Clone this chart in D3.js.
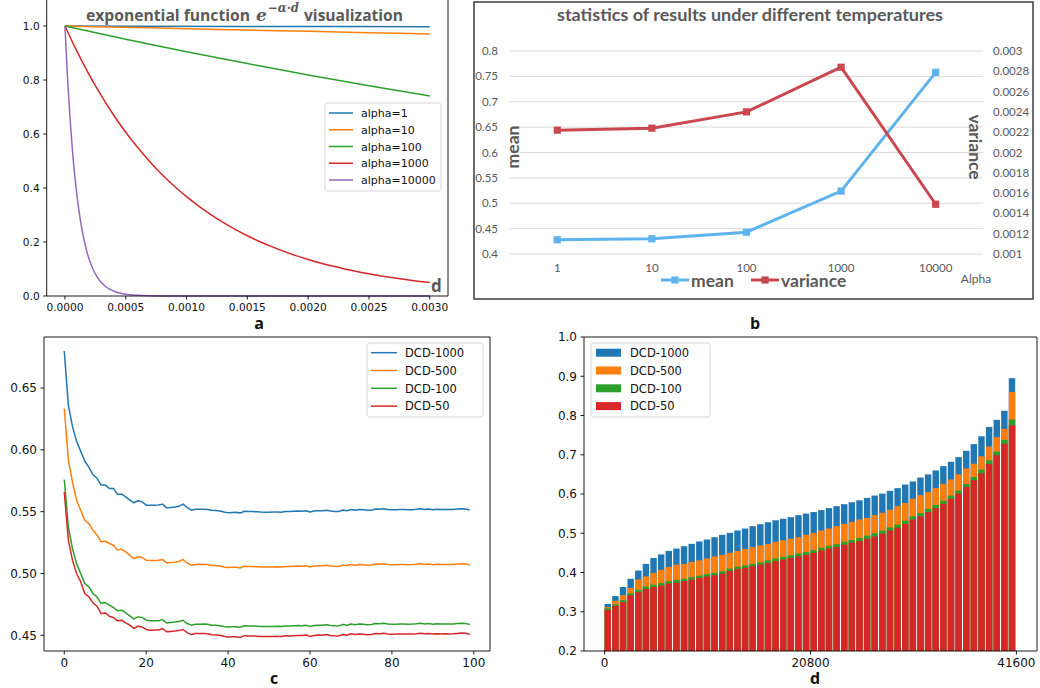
<!DOCTYPE html>
<html><head><meta charset="utf-8">
<script src="https://cdn.jsdelivr.net/npm/d3@7"></script>
<style>body{margin:0;background:#fff}svg{display:block}</style>
</head><body>
<svg id="fig" width="1040" height="688"></svg>
<script>
// ---------- Panel a data ----------
const alphaLabels = ["alpha=1","alpha=10","alpha=100","alpha=1000","alpha=10000"];
const aX1 = [0, 0.0015, 0.003];
const aY1 = [1.0, 0.9985, 0.997];
const aX10 = [0,0.0005,0.001,0.0015,0.002,0.0025,0.003];
const aY10 = [1,0.9950,0.9900,0.9851,0.9802,0.9753,0.9704];
const aY100 = [1,0.9512,0.9048,0.8607,0.8187,0.7788,0.7408];
const aX1000 = [0,0.0001,0.0002,0.0003,0.0004,0.0005,0.0006,0.0007,0.0008,0.0009,0.001,0.0011,0.0012,0.0013,0.0014,0.0015,0.0016,0.0017,0.0018,0.0019,0.002,0.0021,0.0022,0.0023,0.0024,0.0025,0.0026,0.0027,0.0028,0.0029,0.003];
const aY1000 = [1,0.9048,0.8187,0.7408,0.6703,0.6065,0.5488,0.4966,0.4493,0.4066,0.3679,0.3329,0.3012,0.2725,0.2466,0.2231,0.2019,0.1827,0.1653,0.1496,0.1353,0.1225,0.1108,0.1003,0.0907,0.0821,0.0743,0.0672,0.0608,0.0550,0.0498];
const aX10000 = [0,0.00002,0.00004,0.00006,0.00008,0.0001,0.00012,0.00014,0.00016,0.00018,0.0002,0.00022,0.00024,0.00026,0.00028,0.0003,0.00032,0.00034,0.00036,0.00038,0.0004,0.00042,0.00044,0.00046,0.00048,0.0005,0.00052,0.00054,0.00056,0.00058,0.0006,0.0008,0.001,0.002,0.003];
const aY10000 = [1,0.8187,0.6703,0.5488,0.4493,0.3679,0.3012,0.2466,0.2019,0.1653,0.1353,0.1108,0.0907,0.0743,0.0608,0.0498,0.0408,0.0334,0.0273,0.0224,0.0183,0.0150,0.0123,0.0101,0.0082,0.0067,0.0055,0.0045,0.0037,0.0030,0.0025,0.0003,0.00005,0,0];
const aXTicks = [0,0.0005,0.001,0.0015,0.002,0.0025,0.003];
const aYTicks = [0,0.2,0.4,0.6,0.8,1.0];

// ---------- Panel b data ----------
const bCategories = ["1","10","100","1000","10000"];
const bMean = [0.428,0.430,0.443,0.524,0.758];
const bVariance = [0.00222,0.00224,0.00240,0.00284,0.00149];
const bLeftTicks = [0.4,0.45,0.5,0.55,0.6,0.65,0.7,0.75,0.8];
const bRightTicks = [0.001,0.0012,0.0014,0.0016,0.0018,0.002,0.0022,0.0024,0.0026,0.0028,0.003];

// ---------- Panel c data ----------
const cSeriesNames = ["DCD-1000","DCD-500","DCD-100","DCD-50"];
const cDCD1000 = [0.680,0.636,0.619,0.607,0.599,0.591,0.586,0.580,0.577,0.5715,
 0.5715,0.5688,0.5688,0.564,0.5642,0.562,0.5593,0.5572,0.5588,0.558,
 0.5553,0.5552,0.5553,0.5554,0.5561,0.5531,0.5533,0.5537,0.5543,0.5561,
 0.5534,0.5512,0.552,0.552,0.552,0.5518,0.5511,0.5509,0.5506,0.5498,
 0.5492,0.5494,0.5495,0.5489,0.5503,0.5501,0.5501,0.5499,0.5497,0.5496,
 0.5496,0.5497,0.5498,0.5496,0.5502,0.5501,0.5503,0.5505,0.5504,0.5508,
 0.5497,0.5505,0.5508,0.5507,0.5512,0.5505,0.5502,0.5501,0.5513,0.5507,
 0.5518,0.5512,0.5517,0.5515,0.5511,0.5512,0.5521,0.5519,0.5523,0.5517,
 0.5515,0.5516,0.5517,0.5517,0.5516,0.5516,0.5519,0.5523,0.5518,0.5521,
 0.5516,0.5519,0.5517,0.5518,0.5517,0.5518,0.5521,0.5524,0.5522,0.5513];
const cDCD500 = [0.6335,0.5917,0.5742,0.5593,0.5512,0.5431,0.5404,0.535,0.531,0.5256,
 0.5261,0.5243,0.523,0.5189,0.5197,0.5175,0.5148,0.5119,0.5135,0.513,
 0.5108,0.5105,0.5106,0.5107,0.5113,0.5086,0.5088,0.5091,0.5097,0.5113,
 0.5085,0.5067,0.5073,0.5074,0.5073,0.5072,0.5065,0.5064,0.5061,0.5053,
 0.5048,0.5050,0.5051,0.5045,0.5058,0.5057,0.5056,0.5055,0.5053,0.5052,
 0.5052,0.5053,0.5054,0.5052,0.5057,0.5056,0.5058,0.5060,0.5059,0.5063,
 0.5053,0.5060,0.5063,0.5062,0.5067,0.5061,0.5058,0.5057,0.5068,0.5062,
 0.5073,0.5067,0.5072,0.5070,0.5066,0.5068,0.5076,0.5074,0.5078,0.5072,
 0.5071,0.5071,0.5072,0.5072,0.5071,0.5072,0.5074,0.5078,0.5073,0.5076,
 0.5071,0.5074,0.5072,0.5073,0.5072,0.5073,0.5076,0.5079,0.5077,0.5069];
const cDCD100 = [0.576,0.5377,0.5202,0.508,0.500,0.4919,0.4892,0.4838,0.4811,0.4757,
 0.4765,0.4744,0.4725,0.4698,0.4703,0.4681,0.4657,0.4633,0.4649,0.4644,
 0.4622,0.4617,0.4618,0.4618,0.4627,0.4600,0.4604,0.4607,0.4612,0.4622,
 0.4595,0.4582,0.4590,0.4590,0.4591,0.4589,0.4582,0.4581,0.4578,0.4571,
 0.4567,0.4569,0.4570,0.4564,0.4577,0.4576,0.4575,0.4574,0.4572,0.4571,
 0.4571,0.4572,0.4573,0.4571,0.4576,0.4575,0.4577,0.4579,0.4578,0.4582,
 0.4572,0.4579,0.4582,0.4581,0.4586,0.4580,0.4577,0.4576,0.4587,0.4581,
 0.4592,0.4586,0.4591,0.4589,0.4585,0.4587,0.4595,0.4593,0.4597,0.4591,
 0.4590,0.4590,0.4591,0.4591,0.4590,0.4591,0.4593,0.4597,0.4592,0.4595,
 0.4590,0.4593,0.4591,0.4592,0.4591,0.4592,0.4595,0.4598,0.4596,0.4588];
const cDCD50 = [0.5658,0.527,0.5108,0.500,0.4933,0.4838,0.4811,0.4763,0.4735,0.4676,
 0.4681,0.4654,0.4644,0.4617,0.4622,0.4600,0.4582,0.4555,0.4574,0.4568,
 0.4547,0.4541,0.4542,0.4542,0.4555,0.4528,0.4531,0.4534,0.4538,0.4547,
 0.4522,0.4506,0.4514,0.4515,0.4514,0.4512,0.4505,0.4503,0.4501,0.4492,
 0.4486,0.4488,0.4489,0.4483,0.4497,0.4495,0.4495,0.4493,0.4491,0.4490,
 0.4490,0.4491,0.4492,0.4490,0.4496,0.4495,0.4497,0.4499,0.4498,0.4502,
 0.4491,0.4499,0.4502,0.4501,0.4506,0.4499,0.4496,0.4495,0.4507,0.4501,
 0.4512,0.4506,0.4511,0.4509,0.4505,0.4506,0.4515,0.4513,0.4517,0.4511,
 0.4509,0.4510,0.4511,0.4511,0.4510,0.4510,0.4513,0.4517,0.4512,0.4515,
 0.4510,0.4513,0.4511,0.4512,0.4511,0.4512,0.4515,0.4518,0.4516,0.4507];
const cXTicks = [0,20,40,60,80,100];
const cYTicks = [0.45,0.50,0.55,0.60,0.65];

// ---------- Panel d data (sorted scores, sampled) ----------
const dDCD1000 = [0.320,0.340,0.363,0.384,0.405,0.422,0.437,0.446,0.455,0.461,0.467,0.473,0.479,0.484,0.490,0.496,0.501,0.507,0.512,0.518,0.523,0.528,0.533,0.537,0.541,0.546,0.550,0.554,0.559,0.564,0.569,0.574,0.579,0.584,0.590,0.596,0.601,0.608,0.615,0.624,0.632,0.642,0.650,0.660,0.671,0.682,0.694,0.710,0.727,0.747,0.771,0.789,0.812,0.895];
const dDCD500 = [0.312,0.328,0.342,0.361,0.382,0.390,0.399,0.407,0.414,0.420,0.422,0.427,0.431,0.436,0.441,0.445,0.450,0.455,0.460,0.465,0.469,0.473,0.478,0.482,0.486,0.490,0.496,0.501,0.507,0.512,0.518,0.524,0.529,0.535,0.539,0.546,0.552,0.560,0.569,0.577,0.588,0.597,0.605,0.615,0.626,0.637,0.650,0.665,0.677,0.696,0.721,0.745,0.766,0.860];
const dDCD100 = [0.309,0.319,0.330,0.347,0.356,0.364,0.369,0.373,0.378,0.381,0.384,0.388,0.392,0.396,0.399,0.403,0.410,0.415,0.418,0.422,0.426,0.431,0.436,0.440,0.444,0.448,0.452,0.457,0.463,0.468,0.472,0.478,0.483,0.488,0.494,0.500,0.507,0.515,0.522,0.532,0.543,0.551,0.562,0.572,0.583,0.596,0.609,0.626,0.643,0.662,0.686,0.708,0.738,0.790];
const dDCD50 = [0.305,0.315,0.325,0.342,0.350,0.358,0.363,0.367,0.372,0.374,0.378,0.382,0.386,0.390,0.393,0.397,0.404,0.409,0.412,0.416,0.420,0.424,0.429,0.433,0.437,0.441,0.445,0.450,0.456,0.461,0.465,0.471,0.476,0.480,0.486,0.492,0.499,0.507,0.514,0.524,0.535,0.543,0.554,0.564,0.575,0.588,0.601,0.618,0.635,0.653,0.677,0.699,0.728,0.775];
const dTotal = 41600;
const dXTicks = [0,20800,41600];
const dYTicks = [0.2,0.3,0.4,0.5,0.6,0.7,0.8,0.9,1.0];

const tab = ["#1f77b4","#ff7f0e","#2ca02c","#d62728","#9467bd"];
const svg = d3.select("#fig");
svg.append("rect").attr("width",1040).attr("height",688).attr("fill","#fff");
const defs = svg.append("defs");
const MPL = "DejaVu Sans";

function spines(g, x0, x1, y0, y1, sides){
  const s = {left:[x0,y0,x0,y1], right:[x1,y0,x1,y1], top:[x0,y0,x1,y0], bottom:[x0,y1,x1,y1]};
  sides.forEach(k=>{ const c=s[k]; g.append("line").attr("x1",c[0]).attr("y1",c[1]).attr("x2",c[2]).attr("y2",c[3]).attr("stroke","#000").attr("stroke-width",0.9); });
}
function xTicks(g, scale, ticks, yb, fmt, fs){
  ticks.forEach(t=>{
    const px = scale(t);
    g.append("line").attr("x1",px).attr("x2",px).attr("y1",yb).attr("y2",yb+3.5).attr("stroke","#000").attr("stroke-width",0.9);
    g.append("text").attr("x",px).attr("y",yb+7+fs*0.76).attr("text-anchor","middle").attr("font-family",MPL).attr("font-size",fs).attr("fill","#111").text(fmt(t));
  });
}
function yTicks(g, scale, ticks, xl, fmt, fs){
  ticks.forEach(t=>{
    const py = scale(t);
    g.append("line").attr("x1",xl-3.5).attr("x2",xl).attr("y1",py).attr("y2",py).attr("stroke","#000").attr("stroke-width",0.9);
    g.append("text").attr("x",xl-7).attr("y",py+fs*0.36).attr("text-anchor","end").attr("font-family",MPL).attr("font-size",fs).attr("fill","#111").text(fmt(t));
  });
}
function clip(id,x,y,w,h){ defs.append("clipPath").attr("id",id).append("rect").attr("x",x).attr("y",y).attr("width",w).attr("height",h); return "url(#"+id+")"; }

// ================= Panel a =================
{
  const L=46.7, R=448, T=-1, B=296;
  const x = d3.scaleLinear().domain([-0.00015,0.00315]).range([L,R]);
  const y = d3.scaleLinear().domain([0,1.1]).range([B,T]);
  const g = svg.append("g");
  const series = [[aX1,aY1],[aX10,aY10],[aX10,aY100],[aX1000,aY1000],[aX10000,aY10000]];
  const gl = g.append("g").attr("clip-path",clip("ca",L,T,R-L,B-T+1));
  const line = d3.line().x(d=>x(d[0])).y(d=>y(d[1])).curve(d3.curveMonotoneX);
  series.forEach((s,i)=>{
    const pts = s[0].map((v,j)=>[v,s[1][j]]);
    gl.append("path").attr("d",line(pts)).attr("fill","none").attr("stroke",tab[i]).attr("stroke-width",1.5);
  });
  spines(g,L,R,T,B,["left","right","bottom"]);
  xTicks(g,x,aXTicks,B,d=>d.toFixed(4),10.6);
  yTicks(g,y,aYTicks,L,d=>d.toFixed(1),10.6);
  const lg = g.append("g");
  lg.append("rect").attr("x",325).attr("y",103).attr("width",116).attr("height",88).attr("rx",2.5).attr("fill","#fff").attr("fill-opacity",0.8).attr("stroke","#d0d0d0").attr("stroke-width",0.9);
  alphaLabels.forEach((lab,i)=>{
    const yy = 113 + i*16.75;
    lg.append("line").attr("x1",329).attr("x2",353).attr("y1",yy).attr("y2",yy).attr("stroke",tab[i]).attr("stroke-width",1.5);
    lg.append("text").attr("x",361).attr("y",yy+4).attr("font-family",MPL).attr("font-size",11).attr("fill","#111").text(lab);
  });
  const tc="#5a5a5a";
  g.append("text").attr("x",86).attr("y",21).attr("font-family","Open Sans").attr("font-weight","bold").attr("font-size",16).attr("fill",tc).attr("textLength",164).attr("lengthAdjust","spacingAndGlyphs").text("exponential function");
  g.append("text").attr("x",256).attr("y",21).attr("font-family","DejaVu Serif").attr("font-style","italic").attr("font-weight","bold").attr("font-size",17).attr("fill",tc).text("e");
  g.append("text").attr("x",268).attr("y",12).attr("font-family","DejaVu Serif").attr("font-style","italic").attr("font-weight","bold").attr("font-size",12.5).attr("fill",tc).attr("textLength",31).attr("lengthAdjust","spacingAndGlyphs").text("−α·d");
  g.append("text").attr("x",304).attr("y",21).attr("font-family","Open Sans").attr("font-weight","bold").attr("font-size",16).attr("fill",tc).attr("textLength",99).attr("lengthAdjust","spacingAndGlyphs").text("visualization");
  g.append("text").attr("x",431).attr("y",292).attr("font-family","Open Sans").attr("font-weight","bold").attr("font-size",17).attr("fill",tc).text("d");
  g.append("text").attr("x",259).attr("y",329).attr("text-anchor","middle").attr("font-family","Open Sans").attr("font-weight","bold").attr("font-size",16).attr("fill","#111").text("a");
}

// ================= Panel b =================
{
  const g = svg.append("g");
  const gc = "#595959", F="Lato";
  g.append("rect").attr("x",474).attr("y",2).attr("width",559).attr("height",297).attr("fill","#fff").attr("stroke","#3c3c3c").attr("stroke-width",1.5);
  const x = d3.scaleBand().domain(bCategories).range([510,983]);
  const yl = d3.scaleLinear().domain([0.4,0.8]).range([254,51]);
  const yr = d3.scaleLinear().domain([0.001,0.003]).range([254,51]);
  bLeftTicks.forEach(t=>{
    g.append("line").attr("x1",510).attr("x2",983).attr("y1",yl(t)).attr("y2",yl(t)).attr("stroke","#d9d9d9").attr("stroke-width",1);
    g.append("text").attr("x",498).attr("y",yl(t)+4).attr("text-anchor","end").attr("font-family",F).attr("font-size",11.5).attr("fill",gc).text(String(+t.toFixed(2)));
  });
  bRightTicks.forEach(t=>{
    g.append("text").attr("x",993).attr("y",yr(t)+4).attr("font-family",F).attr("font-size",11.5).attr("fill",gc).text(String(+t.toFixed(4)));
  });
  bCategories.forEach(c=>{
    g.append("text").attr("x",x(c)+x.bandwidth()/2).attr("y",272).attr("text-anchor","middle").attr("font-family",F).attr("font-size",11.5).attr("fill",gc).text(c);
  });
  g.append("text").attr("x",976).attr("y",283).attr("text-anchor","middle").attr("font-family",F).attr("font-size",12).attr("fill",gc).text("Alpha");
  const cx = c=>x(c)+x.bandwidth()/2;
  const mColor="#5db3ee", vColor="#c9474d";
  const lineM = d3.line().x((d,i)=>cx(bCategories[i])).y(d=>yl(d));
  const lineV = d3.line().x((d,i)=>cx(bCategories[i])).y(d=>yr(d));
  g.append("path").attr("d",lineM(bMean)).attr("fill","none").attr("stroke",mColor).attr("stroke-width",3);
  g.append("path").attr("d",lineV(bVariance)).attr("fill","none").attr("stroke",vColor).attr("stroke-width",3);
  bMean.forEach((d,i)=>g.append("rect").attr("x",cx(bCategories[i])-3.6).attr("y",yl(d)-3.6).attr("width",7.2).attr("height",7.2).attr("fill",mColor));
  bVariance.forEach((d,i)=>g.append("rect").attr("x",cx(bCategories[i])-3.6).attr("y",yr(d)-3.6).attr("width",7.2).attr("height",7.2).attr("fill",vColor));
  g.append("text").attr("x",750).attr("y",21).attr("text-anchor","middle").attr("font-family",F).attr("font-weight","bold").attr("font-size",16.5).attr("fill",gc).attr("textLength",386).attr("lengthAdjust","spacingAndGlyphs").text("statistics of results under different temperatures");
  g.append("text").attr("transform","translate(519,147) rotate(-90)").attr("text-anchor","middle").attr("font-family",F).attr("font-weight","bold").attr("font-size",17.5).attr("fill",gc).text("mean");
  g.append("text").attr("transform","translate(969,147) rotate(90)").attr("text-anchor","middle").attr("font-family",F).attr("font-weight","bold").attr("font-size",17.5).attr("fill",gc).text("variance");
  [[mColor,"mean",661],[vColor,"variance",751]].forEach(([c,lab,x0])=>{
    g.append("line").attr("x1",x0).attr("x2",x0+28).attr("y1",280).attr("y2",280).attr("stroke",c).attr("stroke-width",3);
    g.append("rect").attr("x",x0+14-3.6).attr("y",280-3.6).attr("width",7.2).attr("height",7.2).attr("fill",c);
    g.append("text").attr("x",x0+30).attr("y",287).attr("font-family",F).attr("font-weight","bold").attr("font-size",17.5).attr("fill",gc).text(lab);
  });
  g.append("text").attr("x",755).attr("y",329).attr("text-anchor","middle").attr("font-family","Open Sans").attr("font-weight","bold").attr("font-size",16).attr("fill","#111").text("b");
}

// ================= Panel c =================
{
  const L=44, R=490, T=337, B=651;
  const x = d3.scaleLinear().domain([-4.95,103.95]).range([L,R]);
  const y = d3.scaleLinear().domain([0.4373,0.6913]).range([B,T]);
  const g = svg.append("g");
  const gl = g.append("g").attr("clip-path",clip("cc",L,T,R-L,B-T));
  const line = d3.line().x((d,i)=>x(i)).y(d=>y(d));
  [cDCD1000,cDCD500,cDCD100,cDCD50].forEach((s,i)=>{
    gl.append("path").attr("d",line(s)).attr("fill","none").attr("stroke",tab[i]).attr("stroke-width",1.5).attr("stroke-linejoin","round");
  });
  spines(g,L,R,T,B,["left","right","top","bottom"]);
  xTicks(g,x,cXTicks,B,d=>String(d),12);
  yTicks(g,y,cYTicks,L,d=>d.toFixed(2),12);
  const lg = g.append("g");
  lg.append("rect").attr("x",367).attr("y",343).attr("width",116).attr("height",74).attr("rx",2.5).attr("fill","#fff").attr("fill-opacity",0.8).attr("stroke","#d0d0d0").attr("stroke-width",0.9);
  cSeriesNames.forEach((lab,i)=>{
    const yy = 352.7 + i*17.8;
    lg.append("line").attr("x1",371).attr("x2",397).attr("y1",yy).attr("y2",yy).attr("stroke",tab[i]).attr("stroke-width",1.5);
    lg.append("text").attr("x",405).attr("y",yy+4.2).attr("font-family",MPL).attr("font-size",11.5).attr("fill","#111").text(lab);
  });
  g.append("text").attr("x",274).attr("y",684).attr("text-anchor","middle").attr("font-family","Open Sans").attr("font-weight","bold").attr("font-size",16).attr("fill","#111").text("c");
}

// ================= Panel d =================
{
  const L=584, R=1037, T=337, B=651;
  const x = d3.scaleLinear().domain([-2080,43680]).range([L,R]);
  const y = d3.scaleLinear().domain([0.2,1.0]).range([B,T]);
  const g = svg.append("g");
  const gb = g.append("g").attr("clip-path",clip("cd",L,T,R-L,B-T));
  const n = dDCD1000.length, step = dTotal/n;
  [dDCD1000,dDCD500,dDCD100,dDCD50].forEach((s,si)=>{
    gb.selectAll(null).data(s).join("rect")
      .attr("x",(d,i)=>x(i*step))
      .attr("width",(d,i)=>x((i+1)*step)-x(i*step)-1.2)
      .attr("y",d=>y(d))
      .attr("height",d=>B-y(d))
      .attr("fill",tab[si]);
  });
  spines(g,L,R,T,B,["left","right","top","bottom"]);
  xTicks(g,x,dXTicks,B,d=>String(d),12);
  yTicks(g,y,dYTicks,L,d=>d.toFixed(1),12);
  const lg = g.append("g");
  lg.append("rect").attr("x",591).attr("y",343).attr("width",119).attr("height",74).attr("rx",2.5).attr("fill","#fff").attr("fill-opacity",0.8).attr("stroke","#d0d0d0").attr("stroke-width",0.9);
  cSeriesNames.forEach((lab,i)=>{
    const yy = 352.7 + i*17.8;
    lg.append("rect").attr("x",596).attr("y",yy-4).attr("width",25).attr("height",8).attr("fill",tab[i]);
    lg.append("text").attr("x",630).attr("y",yy+4.2).attr("font-family",MPL).attr("font-size",11.5).attr("fill","#111").text(lab);
  });
  g.append("text").attr("x",815).attr("y",684).attr("text-anchor","middle").attr("font-family","Open Sans").attr("font-weight","bold").attr("font-size",16).attr("fill","#111").text("d");
}
</script>
</body></html>
